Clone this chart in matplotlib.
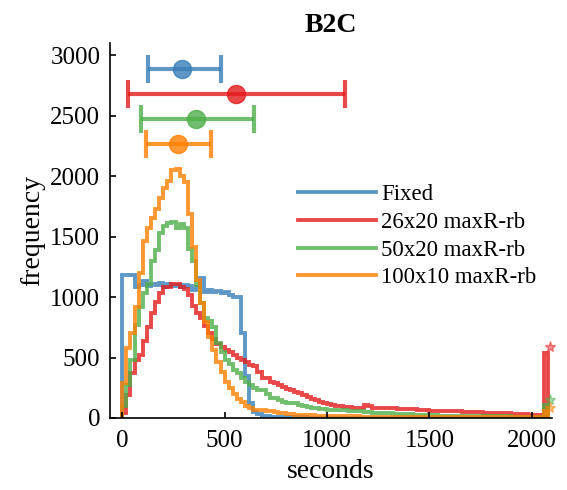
import numpy as np
import matplotlib
matplotlib.use('Agg')
import matplotlib.pyplot as plt

plt.rcParams['font.family'] = ['Liberation Serif', 'DejaVu Serif']

# histogram counts, 20 s bins from 0 to 2080 s (last bin = runs that hit the limit)
bin_width = 20
fixed = [1180, 1180, 1180, 1080, 1100, 1130, 1090, 1110, 1100, 1120,
         1080, 1110, 1090, 1100, 1080, 1100, 1090, 1060, 1080, 1160,
         1040, 1060, 1040, 1050, 1030, 1040, 1020, 1000, 1000, 700,
         350, 120, 50, 30, 20, 15, 12, 10, 8, 6,
         5, 5, 4, 4, 4, 3, 3, 3, 3, 3,
         3, 3, 3, 3, 3, 3, 3, 3, 3, 3,
         3, 3, 3, 3, 3, 3, 3, 3, 3, 3,
         3, 3, 3, 3, 3, 3, 3, 3, 3, 3,
         3, 3, 3, 3, 3, 3, 3, 3, 3, 3,
         3, 3, 3, 3, 3, 3, 3, 3, 3, 3,
         3, 3, 3, 5]
r26x20 = [40, 190, 370, 480, 520, 640, 750, 865, 955, 1030,
          1080, 1080, 1110, 1110, 1080, 1070, 1015, 930, 865, 825,
          760, 700, 650, 610, 585, 560, 545, 520, 500, 480,
          460, 437, 430, 380, 330, 330, 300, 290, 270, 255,
          240, 230, 215, 205, 190, 175, 160, 150, 135, 125,
          115, 105, 100, 95, 90, 90, 85, 80, 80, 105,
          100, 80, 80, 80, 80, 80, 80, 75, 75, 75,
          75, 75, 70, 70, 70, 60, 60, 60, 60, 60,
          55, 55, 55, 50, 50, 50, 50, 50, 45, 45,
          45, 40, 40, 40, 40, 35, 35, 30, 30, 25,
          25, 25, 25, 540]
r50x20 = [100, 270, 480, 770, 915, 1030, 1110, 1300, 1385, 1533,
          1590, 1616, 1620, 1575, 1600, 1570, 1400, 1300, 1100, 950,
          830, 800, 750, 620, 545, 480, 445, 400, 370, 330,
          300, 270, 250, 235, 230, 200, 165, 165, 150, 130,
          125, 125, 120, 110, 100, 90, 82, 80, 78, 75,
          70, 68, 65, 65, 62, 60, 58, 56, 55, 52,
          50, 45, 42, 40, 40, 38, 36, 35, 34, 32,
          30, 28, 26, 25, 24, 22, 22, 20, 20, 20,
          18, 18, 18, 17, 17, 16, 16, 15, 15, 15,
          14, 14, 14, 13, 13, 12, 12, 12, 12, 12,
          12, 12, 12, 110]
r100x10 = [290, 577, 700, 915, 1200, 1467, 1575, 1650, 1731, 1820,
           1900, 1960, 2050, 2060, 2000, 1950, 1690, 1410, 1140, 950,
           790, 667, 560, 460, 380, 300, 250, 200, 160, 130,
           100, 85, 70, 65, 65, 60, 55, 50, 45, 40,
           35, 30, 28, 26, 25, 24, 22, 20, 20, 18,
           18, 16, 15, 15, 15, 14, 14, 13, 12, 12,
           12, 11, 11, 10, 10, 10, 10, 9, 9, 9,
           9, 8, 8, 8, 8, 8, 7, 7, 7, 7,
           7, 7, 6, 6, 6, 6, 6, 6, 5, 5,
           5, 5, 5, 5, 5, 5, 5, 5, 5, 5,
           5, 5, 5, 60]

labels = ['Fixed', '26x20 maxR-rb', '50x20 maxR-rb', '100x10 maxR-rb']
series = [fixed, r26x20, r50x20, r100x10]
colors = ['#377eb8', '#e41a1c', '#4daf4a', '#ff7f00']

# mean and spread of completion time (error bars on top)
means = [293, 557, 362, 274]
lows = [127, 29, 93, 117]
highs = [484, 1090, 641, 435]
bar_y = [2890, 2680, 2470, 2265]

# runs that timed out (star markers at the right edge)
overflow_x = 2090
overflow = [None, 585, 150, 80]

fig = plt.figure(figsize=(5.67, 4.9), dpi=100)
ax = fig.add_axes([0.194, 0.147, 0.78, 0.765])

edges = np.arange(0, bin_width * len(fixed) + 1, bin_width)
for vals, lab, c in zip(series, labels, colors):
    ax.stairs(vals, edges, color=c, alpha=0.8, lw=2.8, label=lab)

for m, lo, hi, y, c in zip(means, lows, highs, bar_y, colors):
    ax.errorbar([m], [y], xerr=[[m - lo], [hi - m]], fmt='o', color=c, alpha=0.8,
                ms=13, elinewidth=3, capsize=10, capthick=3)

for v, c in zip(overflow, colors):
    if v is not None:
        ax.plot(overflow_x, v, marker='*', color=c, alpha=0.5, ms=8, clip_on=False)

ax.set_xlim(-60, 2100)
ax.set_ylim(0, 3100)
ax.set_xticks(np.arange(0, 2001, 500))
ax.set_yticks(np.arange(0, 3001, 500))
ax.tick_params(direction='in', labelsize=18, length=4, width=1.2)
ax.tick_params(axis='x', pad=9)
ax.tick_params(axis='y', pad=7)
for s in ['left', 'bottom']:
    ax.spines[s].set_linewidth(1.2)
ax.spines['top'].set_visible(False)
ax.spines['right'].set_visible(False)
ax.set_xlabel('seconds', fontsize=20, labelpad=5)
ax.set_ylabel('frequency', fontsize=20, labelpad=4)
ax.set_title('B2C', fontsize=20, fontweight='bold', pad=8)

ax.legend(loc='upper right', bbox_to_anchor=(1.01, 0.68), frameon=False, fontsize=16.5,
          handlelength=3.4, handletextpad=0.2, labelspacing=0.3)

plt.savefig('out.png', dpi=100)
